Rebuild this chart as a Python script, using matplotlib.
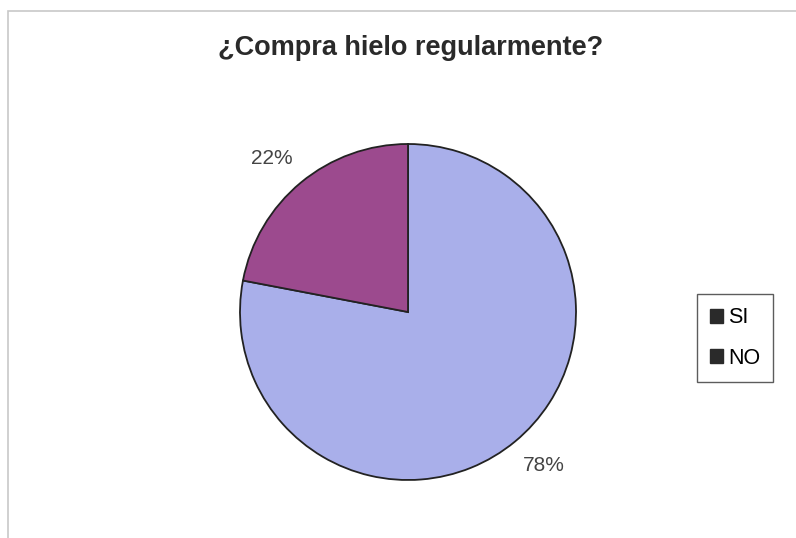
import matplotlib.pyplot as plt
from matplotlib.patches import Rectangle, Patch

# survey answers
labels = ['SI', 'NO']
shares = [78, 22]
colors = ['#A9AFEA', '#9C4A8E']

plt.rcParams['font.family'] = ['Liberation Sans', 'DejaVu Sans']

fig = plt.figure(figsize=(7.96, 5.38), dpi=100)

# thin grey frame around the chart area
fig.patches.append(Rectangle((8 / 796, -0.01), 800 / 796, 527 / 538 + 0.01, transform=fig.transFigure,
                             fill=False, edgecolor='#C8C8C8', linewidth=1.2))

fig.text(411 / 796, 1 - 48 / 538, '¿Compra hielo regularmente?', ha='center', va='center',
         fontsize=19.5, fontweight='bold', color='#2a2a2a')

ax = fig.add_axes([240 / 796, 58 / 538, 336 / 796, 336 / 538])
wedges, texts = ax.pie(shares, colors=colors, startangle=90, counterclock=False,
                       labels=[f'{v}%' for v in shares], labeldistance=1.2,
                       wedgeprops=dict(edgecolor='#222222', linewidth=1.3),
                       textprops=dict(fontsize=15, color='#444444'))
for t in texts:
    x, y = t.get_position()
    t.set_position((x * 1.06, y * 0.985))  # push labels a bit sideways
    t.set_ha('center')
    t.set_va('center')
ax.set_xlim(-1, 1)
ax.set_ylim(-1, 1)

handles = [Patch(facecolor='#2a2a2a', edgecolor='#2a2a2a', label=l) for l in labels]
leg = fig.legend(handles=handles, loc='center', bbox_to_anchor=(735 / 796, 1 - 338 / 538),
                 fontsize=15.5, frameon=True, fancybox=False, handlelength=0.6, handleheight=0.6,
                 handletextpad=0.25, labelspacing=0.9, borderpad=0.6, borderaxespad=0)
leg.get_frame().set_edgecolor('#333333')
leg.get_frame().set_linewidth(1.0)

fig.savefig('out.png', dpi=100, facecolor='white')
